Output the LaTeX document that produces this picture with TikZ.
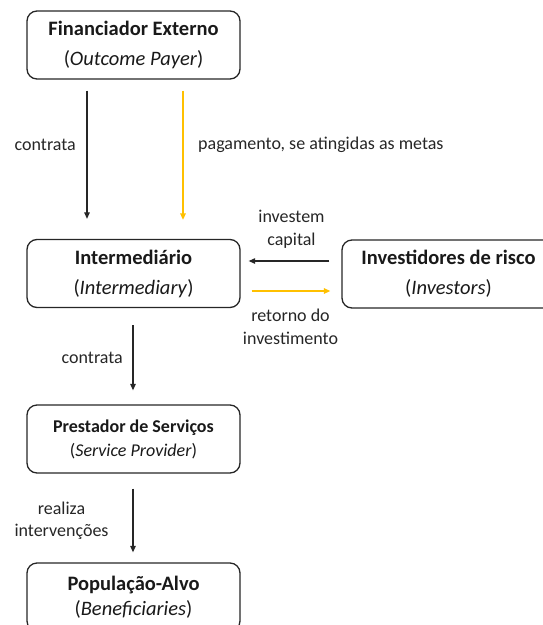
\documentclass[tikz,border=0pt]{standalone}
\usepackage{fontspec}
\setmainfont{Carlito}
\usetikzlibrary{arrows.meta}
\definecolor{gold}{HTML}{FFC000}
\definecolor{edge}{HTML}{262626}
\begin{document}
\begin{tikzpicture}[x=1pt,y=-1pt,
  box/.style={draw=edge, line width=1.3pt, rounded corners=10pt, minimum width=213pt,
    minimum height=68pt, inner sep=0pt, align=center, text=black!90,
    font=\fontsize{20.5}{30}\selectfont},
  smallbox/.style={box, font=\fontsize{18}{24}\selectfont},
  lbl/.style={inner sep=0pt, align=center, text=black!85, font=\fontsize{18}{22.5}\selectfont},
  arr/.style={line width=1.1pt, draw=black!85, -{Triangle[length=6.5pt,width=5.5pt]}},
  garr/.style={line width=1.5pt, draw=gold, -{Triangle[length=6.5pt,width=5.5pt]}}
]
\useasboundingbox (0,0) rectangle (543,625);
\clip (0,0) rectangle (543,625);

% boxes
\node[box] (fin) at (133.5,45) {\textbf{Financiador Externo}\\(\textit{Outcome Payer})};
\node[box] (int) at (133.5,273.5) {\textbf{Intermediário}\\(\textit{Intermediary})};
\node[box] (inv) at (448.5,274) {\textbf{Investidores de risco}\\(\textit{Investors})};
\node[smallbox] (pre) at (133.5,439) {\textbf{Prestador de Serviços}\\(\textit{Service Provider})};
\node[box, font=\fontsize{20.5}{25}\selectfont] (pop) at (133.5,597) {\textbf{População-Alvo}\\(\textit{Beneficiaries})};

% x / y reference coordinates
\coordinate (xa) at (87,0);
\coordinate (xb) at (183,0);
\coordinate (xc) at (133,0);
\coordinate (ya) at (0,261);
\coordinate (yb) at (0,291);

% connectors
\draw[arr, shorten <=11pt, shorten >=20pt] (fin.south -| xa) -- (int.north -| xa);
\draw[garr, shorten <=11pt, shorten >=19pt] (fin.south -| xb) -- (int.north -| xb);
\draw[arr, shorten <=12pt, shorten >=8pt] (inv.west |- ya) -- (int.east |- ya);
\draw[garr, shorten <=11pt, shorten >=11pt] (int.east |- yb) -- (inv.west |- yb);
\draw[arr, shorten <=17pt, shorten >=14pt] (int.south -| xc) -- (pre.north -| xc);
\draw[arr, shorten <=15pt, shorten >=10pt] (pre.south -| xc) -- (pop.north -| xc);

% labels
\node[lbl, anchor=east] (l1) at (76,145) {contrata};
\node[lbl, anchor=west] (l2) at (198,145) {pagamento, se atingidas as metas};
\node[lbl] (l3) at (291.5,229.5) {investem\\capital};
\node[lbl] (l4) at (290.5,327) {retorno do\\investimento};
\node[lbl, anchor=east] (l5) at (123,358) {contrata};
\node[lbl] (l6) at (61.5,521) {realiza\\intervenções};
\end{tikzpicture}
\end{document}
